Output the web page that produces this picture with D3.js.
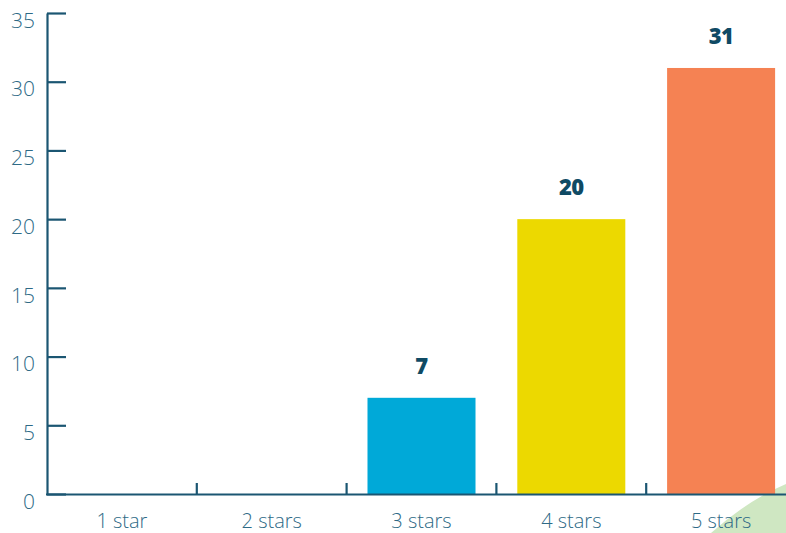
<!DOCTYPE html>
<html lang="en">
<head>
    <meta charset="UTF-8">
    <title>Star ratings</title>
    <script src="https://cdnjs.cloudflare.com/ajax/libs/d3/7.8.5/d3.min.js"></script>
    <style>
        body {
            margin: 0;
            background: #fff;
            font-family: 'Open Sans', Lato, sans-serif;
        }
        svg { display: block; }
    </style>
</head>
<body>
    <div id="chart"></div>
    <script>
        // chart data
        const categories = ["1 star", "2 stars", "3 stars", "4 stars", "5 stars"];
        const counts = [0, 0, 7, 20, 31];
        const barColors = ["#00a9d8", "#00a9d8", "#00a9d8", "#ecd900", "#f58253"];
        const yTicks = [0, 5, 10, 15, 20, 25, 30, 35];

        const width = 786, height = 533;
        const axisColor = "#1b5672";
        const textColor = "#2e6a86";

        const svg = d3.select("#chart").append("svg")
            .attr("width", width)
            .attr("height", height);

        // decorative green corner
        svg.append("path")
            .attr("d", "M711,533 Q748,500 786,484 L786,533 Z")
            .attr("fill", "#cfe7c2");

        const x = d3.scaleBand()
            .domain(categories)
            .range([47, 796])
            .paddingInner(0.279)
            .paddingOuter(0.1395);

        const y = d3.scaleLinear()
            .domain([0, 35])
            .range([494, 13]);

        // bars
        svg.selectAll(".bar")
            .data(categories)
            .enter()
            .append("rect")
            .attr("class", "bar")
            .attr("x", d => x(d))
            .attr("width", x.bandwidth())
            .attr("y", (d, i) => y(counts[i]))
            .attr("height", (d, i) => y(0) - y(counts[i]))
            .attr("fill", (d, i) => barColors[i]);

        // value labels
        svg.selectAll(".val")
            .data(categories.filter((d, i) => counts[i] > 0))
            .enter()
            .append("text")
            .attr("class", "val")
            .attr("x", d => x(d) + x.bandwidth() / 2)
            .attr("y", d => y(counts[categories.indexOf(d)]) - 24)
            .attr("text-anchor", "middle")
            .attr("font-size", 22)
            .attr("font-weight", 800)
            .attr("font-family", "'Open Sans', Lato, sans-serif")
            .attr("letter-spacing", -0.5)
            .attr("fill", "#0f4a64")
            .text(d => counts[categories.indexOf(d)]);

        // y axis - labels hang just below their tick
        const yAxis = svg.append("g")
            .attr("transform", "translate(47,0)")
            .call(d3.axisLeft(y).tickValues(yTicks).tickSizeInner(-19).tickSizeOuter(0).tickPadding(12));
        yAxis.select(".domain").attr("stroke", axisColor).attr("stroke-width", 2.2);
        yAxis.selectAll(".tick line").attr("stroke", axisColor).attr("stroke-width", 2.2);
        yAxis.selectAll(".tick text")
            .attr("fill", textColor)
            .attr("dy", "0.68em")
            .attr("font-size", 21)
            .attr("font-weight", 300)
            .attr("font-family", "'Open Sans', Lato, sans-serif");

        // x axis
        const xAxis = svg.append("g");
        xAxis.append("line")
            .attr("x1", 46).attr("x2", width)
            .attr("y1", y(0) + 0.5).attr("y2", y(0) + 0.5)
            .attr("stroke", axisColor)
            .attr("stroke-width", 2.2);
        xAxis.selectAll(".xtick")
            .data(categories.slice(1))
            .enter()
            .append("line")
            .attr("class", "xtick")
            .attr("x1", d => x(d) - x.step() * x.paddingInner() / 2)
            .attr("x2", d => x(d) - x.step() * x.paddingInner() / 2)
            .attr("y1", y(0) - 11)
            .attr("y2", y(0))
            .attr("stroke", axisColor)
            .attr("stroke-width", 2.2);
        xAxis.selectAll(".xlabel")
            .data(categories)
            .enter()
            .append("text")
            .attr("class", "xlabel")
            .attr("x", d => x(d) + x.bandwidth() / 2)
            .attr("y", 528)
            .attr("text-anchor", "middle")
            .attr("font-size", 20)
            .attr("font-weight", 300)
            .attr("font-family", "'Open Sans', Lato, sans-serif")
            .attr("fill", textColor)
            .text(d => d);
    </script>
</body>
</html>
